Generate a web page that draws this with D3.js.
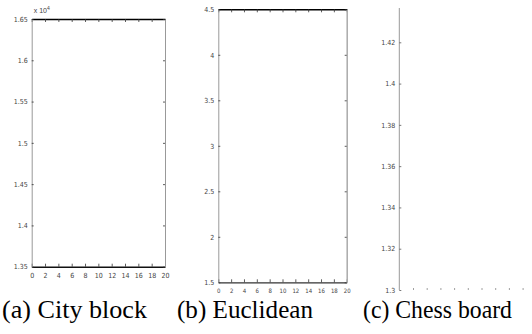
<!DOCTYPE html>
<html>
<head>
<meta charset="utf-8">
<script src="https://cdn.jsdelivr.net/npm/d3@7"></script>
<style>
  body { margin: 0; background: #fff; }
  .tick text { font-family: "Liberation Sans Narrow", "DejaVu Sans Condensed", sans-serif; font-size: 7px; fill: #444; }
  .caption { font-family: "Liberation Serif", "Times New Roman", serif; font-size: 26px; fill: #000; }
</style>
</head>
<body>
<div id="chart"></div>
<script>
// x ticks shared by all three panels
const xTicks = [0, 2, 4, 6, 8, 10, 12, 14, 16, 18, 20];

// (a) City block, y in units of 10^4
const yTicksA = [1.35, 1.4, 1.45, 1.5, 1.55, 1.6, 1.65];
// (b) Euclidean
const yTicksB = [1.5, 2, 2.5, 3, 3.5, 4, 4.5];
// (c) Chess board
const yTicksC = [1.3, 1.32, 1.34, 1.36, 1.38, 1.4, 1.42];

const captions = ["(a) City block", "(b) Euclidean", "(c) Chess board"];

const W = 532, H = 334;
const svg = d3.select("#chart").append("svg")
  .attr("width", W)
  .attr("height", H);

function styleAxis(g, color, width) {
  g.select(".domain").attr("stroke", color).attr("stroke-width", width);
  g.selectAll(".tick line").attr("stroke", "#333").attr("stroke-width", 0.8);
}

/* panel a */
let xA = d3.scaleLinear().domain([0, 20]).range([31.7, 165]);
let yA = d3.scaleLinear().domain([1.35, 1.65]).range([266.7, 19]);

svg.append("g")
  .attr("transform", `translate(0, ${yA(1.65)})`)
  .call(d3.axisTop(xA).tickValues(xTicks).tickSizeInner(-3).tickSizeOuter(0).tickFormat(""))
  .call(g => styleAxis(g, "#000", 1.6));
svg.append("g")
  .attr("transform", `translate(0, ${yA(1.35)})`)
  .call(d3.axisBottom(xA).tickValues(xTicks).tickSizeInner(-3).tickSizeOuter(0).tickPadding(6))
  .call(g => styleAxis(g, "#111", 1.4));
svg.append("g")
  .attr("transform", `translate(${xA(0)}, 0)`)
  .call(d3.axisLeft(yA).tickValues(yTicksA).tickSizeInner(-2).tickSizeOuter(0).tickPadding(4).tickFormat(d3.format("")))
  .call(g => styleAxis(g, "#999", 1));
svg.append("g")
  .attr("transform", `translate(${xA(20)}, 0)`)
  .call(d3.axisRight(yA).tickValues(yTicksA).tickSizeInner(-2).tickSizeOuter(0).tickFormat(""))
  .call(g => styleAxis(g, "#999", 1));
svg.append("text")
  .attr("x", xA(0) + 2)
  .attr("y", yA(1.65) - 6)
  .style("font-family", "Liberation Sans Narrow, sans-serif")
  .style("font-size", "7px")
  .attr("fill", "#444")
  .html("x 10<tspan dy='-3' font-size='5px'>4</tspan>");

/* panel b */
let xB = d3.scaleLinear().domain([0, 20]).range([218.3, 346.7]);
let yB = d3.scaleLinear().domain([1.5, 4.5]).range([282.3, 9.3]);

svg.append("g")
  .attr("transform", `translate(0, ${yB(4.5)})`)
  .call(d3.axisTop(xB).tickValues(xTicks).tickSizeInner(-3).tickSizeOuter(0).tickFormat(""))
  .call(g => styleAxis(g, "#000", 1.6));
svg.append("g")
  .attr("transform", `translate(0, ${yB(1.5)})`)
  .call(d3.axisBottom(xB).tickValues(xTicks).tickSizeInner(-3).tickSizeOuter(0).tickPadding(6))
  .call(g => styleAxis(g, "#333", 1.2))
  .call(g => g.selectAll(".tick text").attr("fill", "#888").style("font-size", "6px"));
svg.append("g")
  .attr("transform", `translate(${xB(0)}, 0)`)
  .call(d3.axisLeft(yB).tickValues(yTicksB).tickSizeInner(-2).tickSizeOuter(0).tickPadding(4).tickFormat(d3.format("")))
  .call(g => styleAxis(g, "#999", 1))
  .call(g => g.selectAll(".tick text").attr("fill", "#888"));
svg.append("g")
  .attr("transform", `translate(${xB(20)}, 0)`)
  .call(d3.axisRight(yB).tickValues(yTicksB).tickSizeInner(-2).tickSizeOuter(0).tickFormat(""))
  .call(g => styleAxis(g, "#aaa", 1.5));

/* panel c, cut off at the right and top */
let xC = d3.scaleLinear().domain([0, 20]).range([399.3, 536.3]);
let yC = d3.scaleLinear().domain([1.3, 1.42]).range([290, 42.3]);

svg.append("g")
  .attr("transform", `translate(${xC(0)}, 0)`)
  .call(d3.axisLeft(yC).tickValues(yTicksC).tickSizeInner(-2).tickSizeOuter(0).tickPadding(4).tickFormat(d3.format("")))
  .call(g => g.select(".domain").attr("d", `M0,8V${yC(1.3)}`).attr("stroke", "#999"))
  .call(g => g.selectAll(".tick line").attr("stroke", "#555").attr("stroke-width", 0.8));
svg.append("g")
  .attr("transform", `translate(0, ${yC(1.3)})`)
  .call(d3.axisBottom(xC).tickValues(xTicks.filter(d => d > 0)).tickSizeInner(-2).tickSizeOuter(0).tickFormat(""))
  .call(g => g.select(".domain").remove())
  .call(g => g.selectAll(".tick line").attr("stroke", "#888").attr("stroke-width", 0.8));

/* captions */
const capX = [2, 177, 363];
const capW = [145, 136, 149];
svg.selectAll(".caption")
  .data(captions).enter()
  .append("text")
  .attr("class", "caption")
  .attr("x", (d, i) => capX[i])
  .attr("y", 318)
  .attr("textLength", (d, i) => capW[i])
  .attr("lengthAdjust", "spacingAndGlyphs")
  .text(d => d);
</script>
</body>
</html>
